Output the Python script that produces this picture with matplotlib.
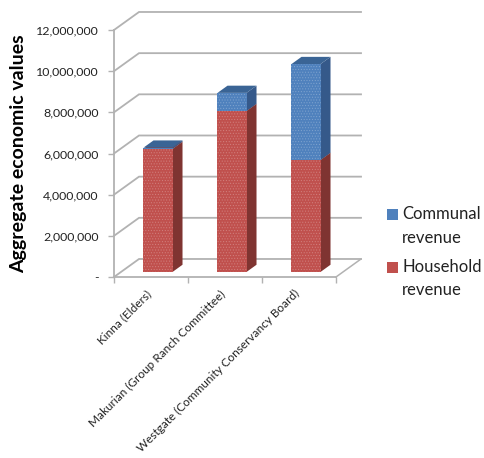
import matplotlib
matplotlib.use("Agg")
import matplotlib.pyplot as plt
from matplotlib.patches import Polygon, Rectangle
from matplotlib.ticker import FuncFormatter
from matplotlib.transforms import ScaledTranslation

categories = ["Kinna (Elders)",
              "Makurian (Group Ranch Committee)",
              "Westgate (Community Conservancy Board)"]
household = [5980000, 7820000, 5440000]
communal = [60000, 880000, 4660000]
y_ticks = [0, 2000000, 4000000, 6000000, 8000000, 10000000, 12000000]
legend_labels = ["Communal\nrevenue", "Household\nrevenue"]

plt.rcParams["font.family"] = ["Lato", "DejaVu Sans"]
plt.rcParams["hatch.linewidth"] = 0.5

# oblique projection: how far the back wall is shifted, in data units
DEPTH_X = 0.338
DEPTH_Y = 875000
BAR_WIDTH = 0.392
BAR_NEAR = 0.28   # fraction of the depth where a bar starts
BAR_FAR = 0.68

GRID = "#b2b2b2"
RED = ("#c0504d", "#7f3431", "#8f3c39")
BLUE = ("#4f81bd", "#35598a", "#3a6495")


def box(ax, x, y0, y1, colors, zorder):
    """Draw one stacked segment as front, side and top faces."""
    x0 = x - BAR_WIDTH / 2 + DEPTH_X * BAR_NEAR
    x1 = x + BAR_WIDTH / 2 + DEPTH_X * BAR_NEAR
    lift = DEPTH_Y * BAR_NEAR
    y0, y1 = y0 + lift, y1 + lift
    dx = DEPTH_X * (BAR_FAR - BAR_NEAR)
    dy = DEPTH_Y * (BAR_FAR - BAR_NEAR)
    ax.add_patch(Polygon([(x1, y0), (x1 + dx, y0 + dy), (x1 + dx, y1 + dy), (x1, y1)],
                         fc=colors[1], ec="none", zorder=zorder))
    ax.add_patch(Polygon([(x0, y1), (x1, y1), (x1 + dx, y1 + dy), (x0 + dx, y1 + dy)],
                         fc=colors[2], ec="none", zorder=zorder))
    front = Polygon([(x0, y0), (x1, y0), (x1, y1), (x0, y1)],
                    fc=colors[0], ec="none", zorder=zorder + 0.5)
    ax.add_patch(front)
    hatch = Polygon([(x0, y0), (x1, y0), (x1, y1), (x0, y1)], fill=False,
                    zorder=zorder + 0.6)
    hatch.set_hatch("......")
    hatch.set_edgecolor((1, 1, 1, 0.22))
    hatch.set_linewidth(0)
    ax.add_patch(hatch)


fig = plt.figure(figsize=(4.85, 4.58), dpi=100)
ax = fig.add_axes([114 / 485, 1 - 277 / 458, 222 / 485, 247 / 458])
ax.set_xlim(0, 3)
ax.set_ylim(0, 12000000)

# back wall gridlines with their short run across the left wall
for v in y_ticks:
    ax.plot([0, DEPTH_X, 3 + DEPTH_X], [v, v + DEPTH_Y, v + DEPTH_Y],
            color=GRID, lw=1.3, clip_on=False, zorder=1, solid_joinstyle="miter")
ax.plot([3, 3 + DEPTH_X], [0, DEPTH_Y], color=GRID, lw=1.1, clip_on=False, zorder=1)

for i in range(len(categories)):
    box(ax, i + 0.5, 0, household[i], RED, 3)
    box(ax, i + 0.5, household[i], household[i] + communal[i], BLUE, 3)

for side in ["top", "right"]:
    ax.spines[side].set_visible(False)
for side in ["left", "bottom"]:
    ax.spines[side].set_color(GRID)
    ax.spines[side].set_linewidth(1.3)

ax.set_yticks(y_ticks)
ax.yaxis.set_major_formatter(FuncFormatter(lambda v, _: "-" if v == 0 else f"{v:,.0f}"))
ax.tick_params(axis="y", length=4, width=1, color=GRID, labelsize=8.9, pad=7,
               labelcolor="#222222")

ax.set_xticks([0, 1, 2, 3])
ax.set_xticklabels([])
ax.tick_params(axis="x", which="major", length=4, width=1, color=GRID)
ax.set_xticks([0.5, 1.5, 2.5], minor=True)
ax.set_xticklabels(categories, minor=True, rotation=45, ha="right",
                   rotation_mode="anchor", fontsize=8.5, color="#222222")
ax.tick_params(axis="x", which="minor", length=0, pad=8)
shift = ScaledTranslation(-5 / 100, 0, fig.dpi_scale_trans)
for lab in ax.get_xticklabels(minor=True):
    lab.set_transform(lab.get_transform() + shift)

fig.text(19 / 485, 1 - 154 / 458, "Aggregate economic values", rotation=90,
         ha="center", va="center", fontsize=14, fontweight="bold")

# legend laid out by hand so each swatch sits beside the first line of its label
swatch_tops = [209, 262]
text_centers = [226, 278.5]
swatch_colors = [BLUE[0], RED[0]]
for top, mid, color, label in zip(swatch_tops, text_centers, swatch_colors, legend_labels):
    fig.add_artist(Rectangle((387 / 485, 1 - (top + 11) / 458), 11 / 485, 11 / 458,
                             transform=fig.transFigure, fc=color, ec="none"))
    fig.text(402 / 485, 1 - mid / 458, label, ha="left", va="center",
             fontsize=12, linespacing=1.6, color="#222222")

fig.savefig("out.png", dpi=100)
